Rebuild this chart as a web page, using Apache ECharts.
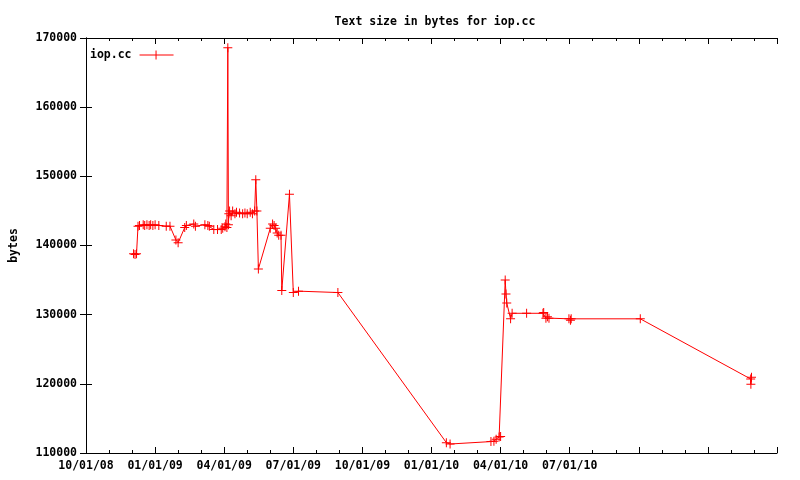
<!DOCTYPE html>
<html>
<head>
<meta charset="utf-8">
<script src="https://cdn.jsdelivr.net/npm/echarts@6/dist/echarts.min.js"></script>
<style>html,body{margin:0;padding:0;background:#fff}#c{width:800px;height:480px}</style>
</head>
<body>
<div id="c"></div>
<script>
// ---- data ----
var seriesName = 'iop.cc';
var dates = [
  '2008-12-03','2008-12-05','2008-12-07','2008-12-09','2008-12-11','2008-12-16','2008-12-18',
  '2008-12-21','2008-12-24','2008-12-26','2008-12-29','2009-01-01','2009-01-06','2009-01-16',
  '2009-01-21','2009-01-29','2009-02-01','2009-02-09','2009-02-11','2009-02-20','2009-02-22',
  '2009-03-06','2009-03-10','2009-03-12','2009-03-18','2009-03-23','2009-03-28','2009-03-30',
  '2009-04-02','2009-04-03','2009-04-04 12:00','2009-04-05 17:00','2009-04-06 12:00',
  '2009-04-07','2009-04-08','2009-04-10','2009-04-12','2009-04-15','2009-04-17','2009-04-21',
  '2009-04-25','2009-04-28','2009-05-01','2009-05-05','2009-05-08','2009-05-11','2009-05-12 12:00',
  '2009-05-14','2009-05-16','2009-06-01','2009-06-04','2009-06-06','2009-06-08','2009-06-10',
  '2009-06-12','2009-06-15','2009-06-16','2009-06-26','2009-07-01','2009-07-08','2009-08-30',
  '2010-01-21','2010-01-26','2010-03-19','2010-03-23','2010-03-26','2010-03-30','2010-04-01',
  '2010-04-07','2010-04-08','2010-04-09','2010-04-14','2010-04-16','2010-05-05','2010-05-27',
  '2010-05-28','2010-05-31','2010-06-02','2010-06-04','2010-06-30','2010-07-02','2010-07-03',
  '2010-10-03','2011-02-25 00:00','2011-02-25 06:00','2011-02-26'
];
var bytes = [
  138800,138700,138800,142800,142900,143000,142900,
  143000,142900,143000,142900,143000,142900,142800,
  142800,140800,140400,142600,142900,143100,142800,
  143000,142900,142800,142300,142300,142300,142500,
  142700,143100,142600,168600,143000,
  144600,145000,144300,145000,144600,144800,144700,
  144600,144700,144600,144800,144600,145000,149500,
  145000,136600,142500,143100,142900,142500,141800,
  141500,141500,133500,147400,133200,133400,133200,
  111500,111300,111650,111700,112000,112300,112400,
  135000,133000,131700,129400,130200,130200,130200,
  130300,129500,129700,129500,129400,129200,129400,
  129400,120700,119950,120950
];
var xTickLabels = ['10/01/08','01/01/09','04/01/09','07/01/09','10/01/09','01/01/10','04/01/10','07/01/10'];
var yMin = 110000, yMax = 170000, yStep = 10000;
var xMonths = 30; // axis spans Oct 2008 .. Apr 2011 (months)

// convert a date string to months since 2008-10-01 (fractional)
function toMonth(s) {
  var p = s.split(/[- :]/).map(Number);
  var y = p[0], mo = p[1], d = p[2], h = p[3] || 0, mi = p[4] || 0;
  var idx = (y - 2008) * 12 + (mo - 10);
  var dim = new Date(Date.UTC(y, mo, 0)).getUTCDate();
  return idx + (d - 1 + (h + mi / 60) / 24) / dim;
}
var points = dates.map(function (d, i) { return [toMonth(d), bytes[i]]; });

var font = 'DejaVu Sans Mono';
var txt = { fontFamily: font, fontWeight: 'bold', fontSize: 11.5, color: '#000' };
var plus = 'path://M0,4H9V5H0Z M4,0H5V9H4Z';
var legendIcon = 'path://M0,4H34V5H0Z M16,0H17V9H16Z';

var chart = echarts.init(document.getElementById('c'), null, { renderer: 'canvas' });
chart.setOption({
  animation: false,
  backgroundColor: '#fff',
  title: {
    text: 'Text size in bytes for iop.cc',
    left: 430, top: 11, textAlign: 'center',
    textStyle: { fontFamily: font, fontWeight: 'bold', fontSize: 11.5, color: '#000' }
  },
  legend: {
    left: 85, top: 44, align: 'right', itemWidth: 34, itemHeight: 9,
    textStyle: Object.assign({ padding: [0, 3, 0, 0] }, txt),
    data: [{ name: seriesName, icon: legendIcon }]
  },
  grid: { left: 83, right: 23, top: 38, bottom: 27, containLabel: false },
  xAxis: [{
    type: 'value', min: 0, max: xMonths, interval: 3, position: 'bottom',
    axisLine: { lineStyle: { color: '#000', width: 1 } },
    axisTick: { inside: true, length: 6, lineStyle: { color: '#000' } },
    minorTick: { show: true, splitNumber: 3, length: 3, lineStyle: { color: '#000' } },
    splitLine: { show: false },
    axisLabel: Object.assign({
      margin: 7,
      formatter: function (v) { var k = Math.round(v / 3); return k < xTickLabels.length ? xTickLabels[k] : ''; }
    }, txt)
  }, {
    type: 'value', min: 0, max: xMonths, interval: 3, position: 'top',
    axisLine: { lineStyle: { color: '#000', width: 1 } },
    axisTick: { inside: true, length: 6, lineStyle: { color: '#000' } },
    minorTick: { show: true, splitNumber: 3, length: 3, lineStyle: { color: '#000' } },
    splitLine: { show: false }, axisLabel: { show: false }
  }],
  yAxis: [{
    type: 'value', min: yMin, max: yMax, interval: yStep, position: 'left',
    name: 'bytes', nameLocation: 'middle', nameGap: 66, nameRotate: 90,
    nameTextStyle: txt,
    axisLine: { show: true, lineStyle: { color: '#000', width: 1 } },
    axisTick: { show: true, inside: true, length: 6, lineStyle: { color: '#000' } },
    splitLine: { show: false },
    axisLabel: Object.assign({ margin: 9, formatter: function (v) { return String(v); } }, txt)
  }, {
    type: 'value', min: yMin, max: yMax, interval: yStep, position: 'right',
    axisLine: { show: true, lineStyle: { color: '#000', width: 1 } },
    axisTick: { show: true, inside: true, length: 6, lineStyle: { color: '#000' } },
    splitLine: { show: false }, axisLabel: { show: false }
  }],
  series: [{
    name: seriesName, type: 'line', xAxisIndex: 0, yAxisIndex: 0,
    data: points, symbol: plus, symbolSize: 9, showAllSymbol: true,
    lineStyle: { color: '#ff0000', width: 1 },
    itemStyle: { color: '#ff0000' },
    emphasis: { disabled: true }
  }]
});
</script>
</body>
</html>
